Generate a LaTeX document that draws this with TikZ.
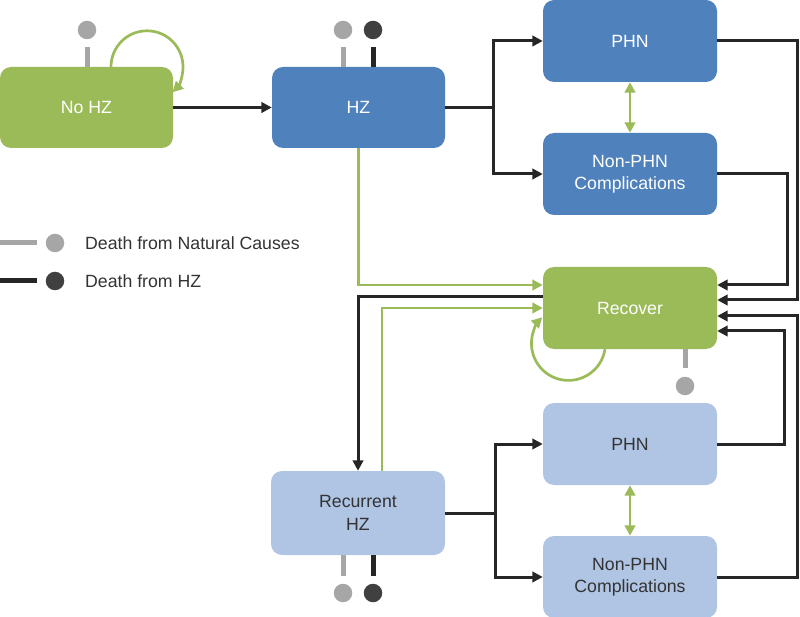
\documentclass[tikz,border=0pt]{standalone}
\usepackage{fontspec}
\setmainfont{Liberation Sans}
\usetikzlibrary{arrows.meta,calc}
\definecolor{gr}{RGB}{155,187,89}
\definecolor{bl}{RGB}{79,129,189}
\definecolor{lb}{RGB}{176,196,228}
\definecolor{dk}{RGB}{38,38,38}
\definecolor{gy}{RGB}{166,166,166}
\definecolor{dc}{RGB}{64,64,64}
\definecolor{tx}{RGB}{51,51,51}
\begin{document}
\begin{tikzpicture}[x=1pt,y=-1pt,
 box/.style={rectangle,rounded corners=11pt,minimum width=174pt,minimum height=82pt,inner sep=0pt,align=center,font=\fontsize{17.7}{22.5}\selectfont},
 gbox/.style={box,fill=gr,text=white},
 bbox/.style={box,fill=bl,text=white},
 lbox/.style={box,fill=lb,text=tx},
 blk/.style={draw=dk,line width=3pt,-{Triangle[length=10.5pt,width=10.5pt]}},
 grn/.style={draw=gr,line width=2.7pt,-{Triangle[length=10.5pt,width=10.5pt]}},
 grn2/.style={draw=gr,line width=2.7pt,{Triangle[length=10.5pt,width=10.5pt]}-{Triangle[length=10.5pt,width=10.5pt]}},
 gstub/.style={draw=gy,line width=5pt},
 kstub/.style={draw=dk,line width=5pt},
 gdot/.style={circle,fill=gy,minimum size=18.5pt,inner sep=0pt},
 kdot/.style={circle,fill=dc,minimum size=18.5pt,inner sep=0pt},
 legtext/.style={anchor=west,text=tx,font=\fontsize{17.7}{21}\selectfont,inner sep=0pt}
]
\useasboundingbox (0,0) rectangle (800,617);

% boxes
\node[gbox,minimum width=173pt,minimum height=81pt] (nohz) at (86.5,107.5) {No HZ};
\node[bbox,minimum width=173pt,minimum height=81pt] (hz) at (358.5,107.5) {HZ};
\node[bbox] (phn1) at (630,41) {PHN};
\node[bbox] (np1) at (630,174) {Non-PHN\\Complications};
\node[gbox] (rec) at (630,308) {Recover};
\node[lbox,minimum height=84pt] (rhz) at (358,513) {Recurrent\\HZ};
\node[lbox] (phn2) at (630,444) {PHN};
\node[lbox] (np2) at (630,577) {Non-PHN\\Complications};

% death dots
\node[gdot] (d1) at (87,30) {};
\node[gdot] (d2) at (343,30) {};
\node[kdot] (d3) at (373,30) {};
\node[gdot] (d4) at (685,386) {};
\node[gdot] (d5) at (343,593) {};
\node[kdot] (d6) at (373,593) {};

\draw[gstub] (nohz.north -| d1) -- ++(0,-20);
\draw[gstub] (hz.north -| d2) -- ++(0,-20);
\draw[kstub] (hz.north -| d3) -- ++(0,-20);
\draw[gstub] (rec.south -| d4) -- ++(0,19);
\draw[gstub] (rhz.south -| d5) -- ++(0,21);
\draw[kstub] (rhz.south -| d6) -- ++(0,21);

% legend
\coordinate (lg1) at (0,243);
\coordinate (lg2) at (0,281);
\node[gdot] (ld1) at (55,243) {};
\node[kdot] (ld2) at (55,281) {};
\draw[gstub] (lg1) -- ++(37,0);
\draw[kstub] (lg2) -- ++(37,0);
\node[legtext] (lt1) at (85,243) {Death from Natural Causes};
\node[legtext] (lt2) at (85,281) {Death from HZ};

% self loops
\draw[grn] ($(nohz.north)+(24.5,0)$) arc[start angle=180,end angle=-45,radius=36pt];
\draw[grn] ($(rec.south)+(-25,0)$) arc[start angle=-9,end angle=-225,radius=37pt];

% main flow
\draw[blk] (nohz.east) -- (hz.west);
\coordinate (s1) at ($(hz.east)+(48,0)$);
\draw[blk] (hz.east) -- (s1) |- (phn1.west);
\draw[blk] (s1) |- (np1.west);
\draw[grn2] (phn1.south) -- (np1.north);

\coordinate (s2) at ($(rhz.east)+(50,0)$);
\draw[blk] (rhz.east) -- (s2) |- (phn2.west);
\draw[blk] (s2) |- (np2.west);
\draw[grn2] (phn2.south) -- (np2.north);

% right-hand returns to Recover
\draw[blk] (np1.east) -- ++(70,0) |- ([yshift=23pt]rec.east);
\draw[blk] (phn1.east) -- ++(80,0) |- ([yshift=8pt]rec.east);
\draw[blk] (np2.east) -- ++(80,0) |- ([yshift=-8pt]rec.east);
\draw[blk] (phn2.east) -- ++(67,0) |- ([yshift=-23pt]rec.east);

% left-hand links
\draw[grn] (hz.south) |- ([yshift=23pt]rec.west);
\draw[blk] ([yshift=11pt]rec.west) -| (rhz.north);
\draw[grn] ($(rhz.north)+(24,0)$) |- (rec.west);
\end{tikzpicture}
\end{document}
